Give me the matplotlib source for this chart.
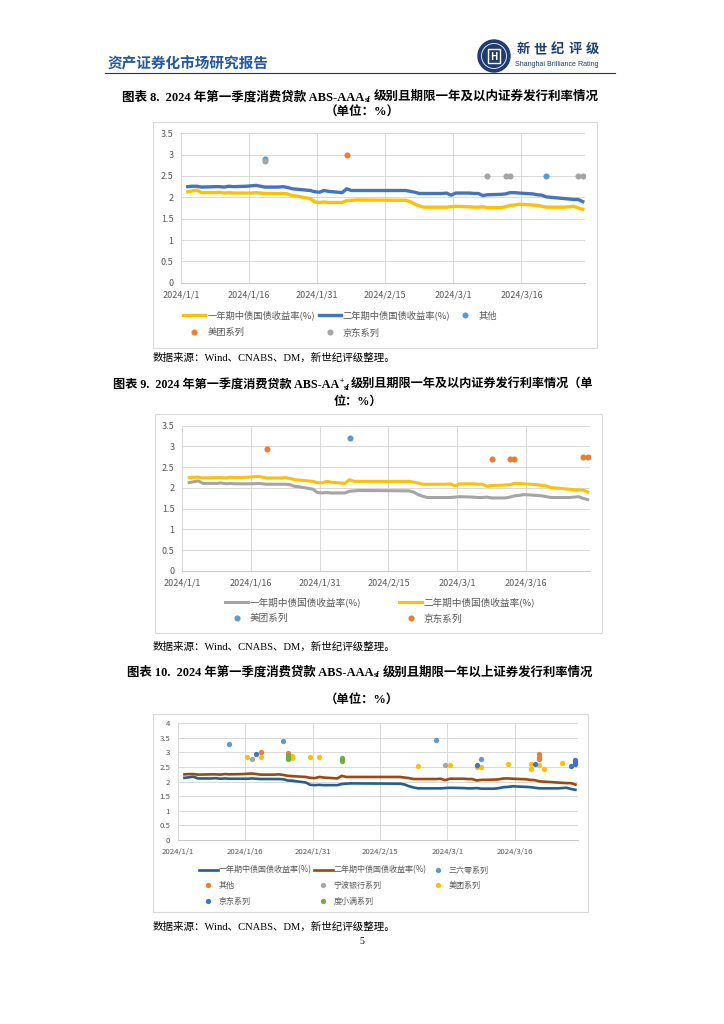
import numpy as np
import matplotlib
matplotlib.use("Agg")
import matplotlib.pyplot as plt
from matplotlib.lines import Line2D
from matplotlib.patches import Rectangle, Circle

plt.rcParams['font.family'] = ['Noto Sans CJK SC', 'DejaVu Sans']

# ---------------- data ----------------
trade_dates = [
    "2024-01-02", "2024-01-03", "2024-01-04", "2024-01-05",
    "2024-01-08", "2024-01-09", "2024-01-10", "2024-01-11", "2024-01-12",
    "2024-01-15", "2024-01-16", "2024-01-17", "2024-01-18", "2024-01-19",
    "2024-01-22", "2024-01-23", "2024-01-24", "2024-01-25", "2024-01-26",
    "2024-01-29", "2024-01-30", "2024-01-31", "2024-02-01", "2024-02-02",
    "2024-02-05", "2024-02-06", "2024-02-07", "2024-02-08",
    "2024-02-19", "2024-02-20", "2024-02-21", "2024-02-22", "2024-02-23",
    "2024-02-26", "2024-02-27", "2024-02-28", "2024-02-29", "2024-03-01",
    "2024-03-04", "2024-03-05", "2024-03-06", "2024-03-07", "2024-03-08",
    "2024-03-11", "2024-03-12", "2024-03-13", "2024-03-14", "2024-03-15",
    "2024-03-18", "2024-03-19", "2024-03-20", "2024-03-21", "2024-03-22",
    "2024-03-25", "2024-03-26", "2024-03-27", "2024-03-28", "2024-03-29"]

yield_1y = [2.13, 2.15, 2.17, 2.11,
            2.11, 2.12, 2.10, 2.11, 2.10,
            2.10, 2.10, 2.11, 2.10, 2.09,
            2.09, 2.09, 2.08, 2.04, 2.03,
            1.97, 1.89, 1.88, 1.89, 1.88,
            1.88, 1.92, 1.93, 1.94,
            1.93, 1.90, 1.84, 1.80, 1.77,
            1.77, 1.77, 1.77, 1.78, 1.79,
            1.78, 1.77, 1.77, 1.78, 1.76,
            1.76, 1.78, 1.81, 1.82, 1.84,
            1.82, 1.81, 1.79, 1.77, 1.77,
            1.77, 1.78, 1.79, 1.75, 1.72]

yield_2y = [2.25, 2.26, 2.26, 2.24,
            2.25, 2.25, 2.24, 2.26, 2.25,
            2.26, 2.27, 2.28, 2.26, 2.24,
            2.24, 2.25, 2.23, 2.20, 2.19,
            2.16, 2.13, 2.12, 2.16, 2.14,
            2.11, 2.20, 2.16, 2.16,
            2.16, 2.14, 2.12, 2.09, 2.09,
            2.09, 2.09, 2.10, 2.05, 2.10,
            2.10, 2.09, 2.09, 2.04, 2.06,
            2.07, 2.08, 2.11, 2.11, 2.10,
            2.08, 2.06, 2.05, 2.01, 2.00,
            1.97, 1.96, 1.95, 1.95, 1.90]

# chart 8 issues (AAAsf, <=1y)
c8_other_dates = ["2024-01-19", "2024-03-21"]
c8_other_vals = [2.90, 2.50]
c8_meituan_dates = ["2024-02-06"]
c8_meituan_vals = [3.00]
c8_jd_dates = ["2024-01-19", "2024-03-08", "2024-03-12", "2024-03-13", "2024-03-28", "2024-03-29"]
c8_jd_vals = [2.86, 2.50, 2.50, 2.50, 2.50, 2.50]

# chart 9 issues (AA+sf, <=1y)
c9_meituan_dates = ["2024-02-06"]
c9_meituan_vals = [3.20]
c9_jd_dates = ["2024-01-19", "2024-03-08", "2024-03-12", "2024-03-13", "2024-03-28", "2024-03-29"]
c9_jd_vals = [2.95, 2.70, 2.70, 2.70, 2.75, 2.75]

# chart 10 issues (AAAsf, >1y)
c10_360_dates = ["2024-01-12", "2024-01-24", "2024-02-27", "2024-03-08"]
c10_360_vals = [3.30, 3.40, 3.42, 2.78]
c10_other_dates = ["2024-01-19", "2024-01-25", "2024-03-21", "2024-03-21", "2024-03-21"]
c10_other_vals = [3.00, 2.98, 2.95, 2.86, 2.78]
c10_ningbo_dates = ["2024-01-17", "2024-02-29"]
c10_ningbo_vals = [2.77, 2.56]
c10_meituan_dates = ["2024-01-16", "2024-01-19", "2024-01-26", "2024-01-26", "2024-01-30", "2024-02-01",
                     "2024-02-23", "2024-03-01", "2024-03-07", "2024-03-08", "2024-03-14",
                     "2024-03-19", "2024-03-19", "2024-03-21", "2024-03-22", "2024-03-26"]
c10_meituan_vals = [2.85, 2.85, 2.87, 2.80, 2.85, 2.85,
                    2.53, 2.57, 2.49, 2.49, 2.59,
                    2.59, 2.45, 2.56, 2.45, 2.65]
c10_jd_dates = ["2024-01-18", "2024-03-07", "2024-03-20", "2024-03-28", "2024-03-29", "2024-03-29", "2024-03-29"]
c10_jd_vals = [2.96, 2.56, 2.62, 2.53, 2.74, 2.68, 2.62]
c10_dxm_dates = ["2024-01-25", "2024-01-25", "2024-01-25", "2024-01-25", "2024-02-06", "2024-02-06"]
c10_dxm_vals = [2.93, 2.87, 2.81, 2.76, 2.80, 2.72]

tick_dates = ["2024-01-01", "2024-01-16", "2024-01-31", "2024-02-15", "2024-03-01", "2024-03-16"]
tick_labels = ["2024/1/1", "2024/1/16", "2024/1/31", "2024/2/15", "2024/3/1", "2024/3/16"]

lbl_1y = "一年期中债国债收益率(%)"
lbl_2y = "二年期中债国债收益率(%)"

# ---------------- figure ----------------
W, H, DPI = 724, 1024, 100
fig = plt.figure(figsize=(W / DPI, H / DPI), dpi=DPI)
fig.patch.set_facecolor('white')
renderer = fig.canvas.get_renderer()

axp = fig.add_axes([0, 0, 1, 1])
axp.set_xlim(0, W)
axp.set_ylim(H, 0)
axp.axis('off')
axp.set_zorder(0)

SERIF = ['Liberation Serif', 'Noto Sans CJK SC']
GRAY_TXT = '#595959'


def to_x(dates):
    return np.array(dates, dtype='datetime64[h]') + np.timedelta64(12, 'h')


def rich_line(parts, y, x0=None, cx=None, width=None, size=9.5, **kw):
    def layout(sz):
        arts = []
        x = 0.0
        em = sz * DPI / 72.0
        for txt, rel, dy, gap in parts:
            x += gap * em
            t = axp.text(x, y + dy * em, txt, fontsize=sz * rel, ha='left', va='center', **kw)
            w = t.get_window_extent(renderer).width
            arts.append((t, x))
            x += w
        return arts, x
    arts, total = layout(size)
    if width is not None:
        for t, _ in arts:
            t.remove()
        size = size * width / total
        arts, total = layout(size)
    if cx is not None:
        x0 = cx - total / 2.0
    for t, x in arts:
        t.set_x(x0 + x)
    return size


def px_axes(l, t, r, b):
    ax = fig.add_axes([l / W, 1 - b / H, (r - l) / W, (b - t) / H])
    ax.set_zorder(2)
    return ax


def style_chart(ax, ymax, fs, pad):
    ax.set_xlim(np.datetime64('2024-01-01T00'), np.datetime64('2024-03-30T00'))
    ax.set_ylim(0, ymax)
    yt = np.arange(0, ymax + 0.01, 0.5)
    ax.set_yticks(yt)
    ax.set_yticklabels([('%g' % v) for v in yt])
    ax.set_xticks(np.array(tick_dates, dtype='datetime64[h]'))
    ax.set_xticklabels(tick_labels)
    ax.grid(True, color='#D9D9D9', lw=0.7)
    ax.set_axisbelow(True)
    for s in ax.spines.values():
        s.set_visible(False)
    ax.spines['bottom'].set_visible(True)
    ax.spines['bottom'].set_color('#C8C8C8')
    ax.spines['bottom'].set_linewidth(0.7)
    ax.tick_params(length=0, labelsize=fs, labelcolor=GRAY_TXT, pad=pad)
    ax.set_facecolor('none')


def dots(ax, dates, vals, color, ms):
    return ax.plot(to_x(dates), vals, 'o', ls='none', color=color, ms=ms, mew=0)[0]


def box(l, t, r, b):
    axp.add_patch(Rectangle((l, t), r - l, b - t, fill=False, ec='#D9D9D9', lw=0.8))


# ---------------- header ----------------
rich_line([("资产证券化市场研究报告", 1, 0, 0)], 62, x0=108, width=162, size=10.5,
          color='#2458A6', fontweight='bold')
axp.add_patch(Circle((494, 56), 16, color='#1E3C72'))
axp.add_patch(Circle((494, 56), 12.5, fill=False, ec='white', lw=0.6))
axp.add_patch(Rectangle((488, 49), 12, 14, fill=False, ec='white', lw=1.0))
axp.text(494, 56.5, "H", color='white', fontsize=7, ha='center', va='center', fontweight='bold')
for i, ch in enumerate("新世纪评级"):
    axp.text(523 + 17.3 * i, 49, ch, fontsize=9.5, color='#1F3F77', ha='center', va='center',
             fontweight='bold')
rich_line([("Shanghai Brilliance Rating", 1, 0, 0)], 64, x0=515, width=85, size=5,
          color='#1F3F77', family=['Liberation Sans', 'DejaVu Sans'])
axp.add_line(Line2D([105, 615], [72.5, 72.5], color='#333333', lw=0.8))

# ---------------- chart 8 ----------------
sz = rich_line([("图表 8.  2024 年第一季度消费贷款 ABS-AAA", 1, 0, 0), ("sf", 0.68, 0.22, 0.02),
                ("级别且期限一年及以内证券发行利率情况", 1, 0, 0.25)],
               97, x0=122, width=482, size=9.5, family=SERIF, fontweight='bold')
rich_line([("（单位：%）", 1, 0, 0)], 112.5, cx=362, size=sz, family=SERIF, fontweight='bold')
box(153, 122, 597, 347.5)

ax8 = px_axes(181, 133.3, 585, 282.7)
style_chart(ax8, 3.5, 6.5, 5.5)
l8a, = ax8.plot(to_x(trade_dates), yield_1y, color='#FFC000', lw=2.4, solid_joinstyle='round')
l8b, = ax8.plot(to_x(trade_dates), yield_2y, color='#4472C4', lw=2.4, solid_joinstyle='round')
d8a = dots(ax8, c8_other_dates, c8_other_vals, '#5B9BD5', 4.4)
d8b = dots(ax8, c8_meituan_dates, c8_meituan_vals, '#ED7D31', 4.4)
d8c = dots(ax8, c8_jd_dates, c8_jd_vals, '#A5A5A5', 4.4)
ax8.legend([l8a, d8b, l8b, d8c, d8a], [lbl_1y, "美团系列", lbl_2y, "京东系列", "其他"],
           ncol=3, loc='upper left', bbox_to_anchor=(183 / W, 1 - 310.5 / H),
           bbox_transform=fig.transFigure, frameon=False, fontsize=6.7, handlelength=2.4,
           handletextpad=0.2, columnspacing=0.4, labelspacing=0.85, borderpad=0,
           borderaxespad=0, labelcolor=GRAY_TXT, numpoints=1)
rich_line([("数据来源：Wind、CNABS、DM，新世纪评级整理。", 1, 0, 0)], 358, x0=153, width=245,
          size=7.8, family=SERIF)

# ---------------- chart 9 ----------------
sz = rich_line([("图表 9.  2024 年第一季度消费贷款 ABS-AA", 1, 0, 0), ("+", 0.62, -0.3, 0.02),
                ("sf", 0.68, 0.22, 0.0), ("级别且期限一年及以内证券发行利率情况（单", 1, 0, 0.05)],
               385, x0=113, width=485, size=9.5, family=SERIF, fontweight='bold')
rich_line([("位：%）", 1, 0, 0)], 402, cx=358, size=sz, family=SERIF, fontweight='bold')
box(155, 414, 602, 633)

ax9 = px_axes(182.3, 425.7, 590, 571)
style_chart(ax9, 3.5, 6.5, 5.5)
l9a, = ax9.plot(to_x(trade_dates), yield_1y, color='#A5A5A5', lw=2.2, solid_joinstyle='round')
l9b, = ax9.plot(to_x(trade_dates), yield_2y, color='#FFC000', lw=2.2, solid_joinstyle='round')
d9a = dots(ax9, c9_meituan_dates, c9_meituan_vals, '#5B9BD5', 4.4)
d9b = dots(ax9, c9_jd_dates, c9_jd_vals, '#ED7D31', 4.4)
ax9.legend([l9a, d9a, l9b, d9b], [lbl_1y, "美团系列", lbl_2y, "京东系列"],
           ncol=2, loc='upper left', bbox_to_anchor=(225 / W, 1 - 597 / H),
           bbox_transform=fig.transFigure, frameon=False, fontsize=6.9, handlelength=2.4,
           handletextpad=0.15, columnspacing=4.0, labelspacing=0.75, borderpad=0,
           borderaxespad=0, labelcolor=GRAY_TXT, numpoints=1)
rich_line([("数据来源：Wind、CNABS、DM，新世纪评级整理。", 1, 0, 0)], 647, x0=153, width=245,
          size=7.8, family=SERIF)

# ---------------- chart 10 ----------------
sz = rich_line([("图表 10.  2024 年第一季度消费贷款 ABS-AAA", 1, 0, 0), ("sf", 0.68, 0.22, 0.02),
                ("级别且期限一年以上证券发行利率情况", 1, 0, 0.25)],
               672, x0=127, width=470, size=9.5, family=SERIF, fontweight='bold')
rich_line([("（单位：%）", 1, 0, 0)], 700, cx=362, size=sz, family=SERIF, fontweight='bold')
box(153, 714, 588, 912)

ax10 = px_axes(177.7, 723.3, 577.7, 840)
style_chart(ax10, 4.0, 5.6, 5.5)
l10a, = ax10.plot(to_x(trade_dates), yield_1y, color='#255E91', lw=1.9, solid_joinstyle='round')
l10b, = ax10.plot(to_x(trade_dates), yield_2y, color='#9E480E', lw=1.9, solid_joinstyle='round')
d10a = dots(ax10, c10_360_dates, c10_360_vals, '#5B9BD5', 3.8)
d10b = dots(ax10, c10_other_dates, c10_other_vals, '#ED7D31', 3.8)
d10c = dots(ax10, c10_ningbo_dates, c10_ningbo_vals, '#A5A5A5', 3.8)
d10d = dots(ax10, c10_meituan_dates, c10_meituan_vals, '#FFC000', 3.8)
d10e = dots(ax10, c10_jd_dates, c10_jd_vals, '#4472C4', 3.8)
d10f = dots(ax10, c10_dxm_dates, c10_dxm_vals, '#70AD47', 3.8)
ax10.legend([l10a, d10b, d10e, l10b, d10c, d10f, d10a, d10d],
            [lbl_1y, "其他", "京东系列", lbl_2y, "宁波银行系列", "度小满系列", "三六零系列", "美团系列"],
            ncol=3, loc='upper left', bbox_to_anchor=(199 / W, 1 - 865.5 / H),
            bbox_transform=fig.transFigure, frameon=False, fontsize=5.8, handlelength=2.35,
            handletextpad=0.12, columnspacing=0.25, labelspacing=0.8, borderpad=0,
            borderaxespad=0, labelcolor=GRAY_TXT, numpoints=1)
rich_line([("数据来源：Wind、CNABS、DM，新世纪评级整理。", 1, 0, 0)], 927, x0=153, width=245,
          size=7.8, family=SERIF)

axp.text(362, 941, "5", fontsize=7, ha='center', va='center', family=SERIF)

fig.savefig('out.png', dpi=DPI, facecolor='white')
